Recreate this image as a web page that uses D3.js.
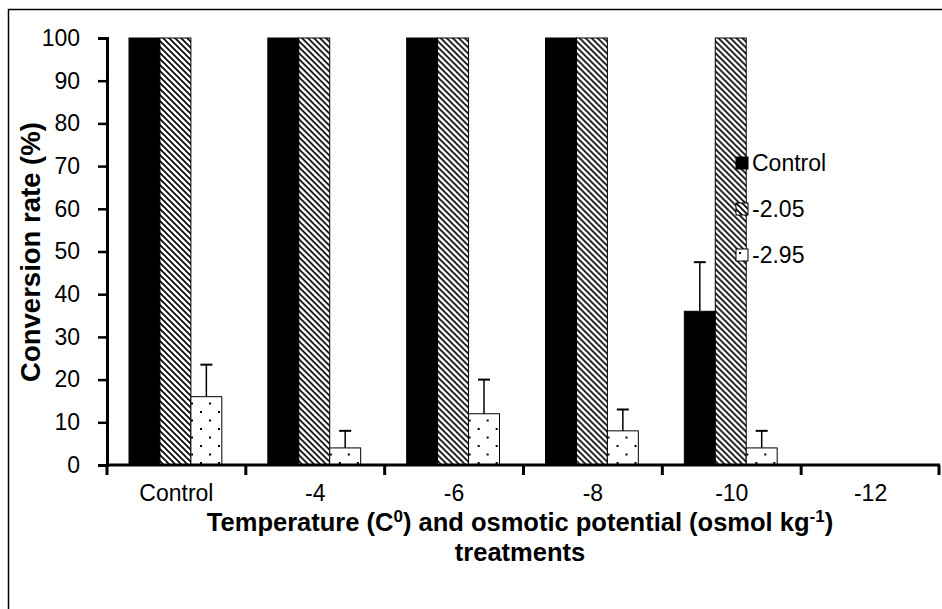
<!DOCTYPE html>
<html>
<head>
<meta charset="utf-8">
<script src="https://cdn.jsdelivr.net/npm/d3@7"></script>
<style>
  body { margin: 0; background: #fff; }
  svg { font-family: Arial, "Liberation Sans", sans-serif; }
</style>
</head>
<body>
<svg width="942" height="609"></svg>
<script>
// categories and series
const categories = ["Control", "-4", "-6", "-8", "-10", "-12"];
const seriesNames = ["Control", "-2.05", "-2.95"];
const controlVals = [100, 100, 100, 100, 36, 0];
const v205Vals    = [100, 100, 100, 100, 100, 0];
const v295Vals    = [16, 4, 12, 8, 4, 0];
const controlErr  = [0, 0, 0, 0, 11.5, 0];
const v205Err     = [0, 0, 0, 0, 0, 0];
const v295Err     = [7.5, 4, 8, 5, 4, 0];
const yTicks = [0, 10, 20, 30, 40, 50, 60, 70, 80, 90, 100];

let svg = d3.select("svg");
let margin = {left: 107, right: 2, top: 38, bottom: 144};
let width = 942, height = 609;

// outer frame
svg.append("rect")
    .attr("x", 8.5).attr("y", 9.5)
    .attr("width", 1000).attr("height", 700)
    .attr("fill", "none").attr("stroke", "#000").attr("stroke-width", 1.5);

let defs = svg.append("defs");
let hatch = defs.append("pattern")
    .attr("id", "hatch").attr("patternUnits", "userSpaceOnUse")
    .attr("width", 6).attr("height", 6);
hatch.append("rect").attr("width", 6).attr("height", 6).attr("fill", "#fff");
hatch.append("path")
    .attr("d", "M-1,-1 L7,7 M-4,2 L2,8 M4,-2 L8,2")
    .attr("stroke", "#000").attr("stroke-width", 1.6);

let dots = defs.append("pattern")
    .attr("id", "dots").attr("patternUnits", "userSpaceOnUse")
    .attr("width", 18).attr("height", 17);
dots.append("rect").attr("width", 18).attr("height", 17).attr("fill", "#fff");
dots.append("rect").attr("x", 3).attr("y", 3).attr("width", 2).attr("height", 2).attr("fill", "#000");
dots.append("rect").attr("x", 12).attr("y", 11.5).attr("width", 2).attr("height", 2).attr("fill", "#000");

let fills = ["#000", "url(#hatch)", "url(#dots)"];

let x0 = d3.scaleBand()
    .domain(categories)
    .range([margin.left, width - margin.right])
    .paddingInner(0).paddingOuter(0);
let x1 = d3.scaleBand()
    .domain(seriesNames)
    .range([22, x0.bandwidth() - 24]);
let y = d3.scaleLinear().domain([0, 100]).range([465, margin.top]);

let data = categories.map((c, i) => ({
    cat: c,
    vals: [
        {s: seriesNames[0], v: controlVals[i], e: controlErr[i]},
        {s: seriesNames[1], v: v205Vals[i], e: v205Err[i]},
        {s: seriesNames[2], v: v295Vals[i], e: v295Err[i]}
    ]
}));

let groups = svg.selectAll("g.cat")
    .data(data)
    .enter().append("g")
    .attr("class", "cat")
    .attr("transform", d => `translate(${x0(d.cat)},0)`);

groups.selectAll("rect")
    .data(d => d.vals.filter(v => v.v > 0))
    .enter().append("rect")
    .attr("x", d => x1(d.s))
    .attr("y", d => y(d.v))
    .attr("width", x1.bandwidth())
    .attr("height", d => y(0) - y(d.v))
    .attr("fill", (d, i) => fills[seriesNames.indexOf(d.s)])
    .attr("stroke", "#000")
    .attr("stroke-width", 1);

// error bars (upper only)
let errs = groups.selectAll("g.err")
    .data(d => d.vals.filter(v => v.e > 0))
    .enter().append("g").attr("class", "err");
errs.append("line")
    .attr("x1", d => x1(d.s) + x1.bandwidth() / 2)
    .attr("x2", d => x1(d.s) + x1.bandwidth() / 2)
    .attr("y1", d => y(d.v))
    .attr("y2", d => y(d.v + d.e))
    .attr("stroke", "#000").attr("stroke-width", 1.5);
errs.append("line")
    .attr("x1", d => x1(d.s) + x1.bandwidth() / 2 - 6)
    .attr("x2", d => x1(d.s) + x1.bandwidth() / 2 + 6)
    .attr("y1", d => y(d.v + d.e))
    .attr("y2", d => y(d.v + d.e))
    .attr("stroke", "#000").attr("stroke-width", 2);

// y axis
let yAxis = svg.append("g")
    .attr("transform", `translate(${margin.left},0)`)
    .call(d3.axisLeft(y).tickValues(yTicks).tickSize(9).tickPadding(18));
yAxis.select(".domain").attr("stroke-width", 3);
yAxis.selectAll(".tick line").attr("stroke-width", 2.5);
yAxis.selectAll("text").attr("font-size", 23).attr("fill", "#000")
    .attr("font-family", "Arial, 'Liberation Sans', sans-serif");

// x axis with ticks at category boundaries
let xAxisG = svg.append("g").attr("transform", `translate(0,${y(0)})`);
xAxisG.append("line")
    .attr("x1", margin.left).attr("x2", width - margin.right)
    .attr("stroke", "#000").attr("stroke-width", 3);
let bounds = categories.map(c => x0(c)).concat([x0.range()[1] - 1]);
xAxisG.selectAll("line.tk")
    .data(bounds)
    .enter().append("line").attr("class", "tk")
    .attr("x1", d => d).attr("x2", d => d)
    .attr("y1", 0).attr("y2", 10)
    .attr("stroke", "#000").attr("stroke-width", 3);
xAxisG.selectAll("text")
    .data(categories)
    .enter().append("text")
    .attr("x", d => x0(d) + x0.bandwidth() / 2)
    .attr("y", 36)
    .attr("text-anchor", "middle")
    .attr("font-size", 23)
    .text(d => d);

// axis titles
svg.append("text")
    .attr("transform", "translate(40,252) rotate(-90)")
    .attr("text-anchor", "middle")
    .attr("font-size", 27.5).attr("font-weight", "bold")
    .text("Conversion rate (%)");

let xt = svg.append("text")
    .attr("x", 520).attr("y", 531)
    .attr("text-anchor", "middle")
    .attr("font-size", 25.5).attr("font-weight", "bold");
xt.append("tspan").text("Temperature (C");
xt.append("tspan").attr("font-size", 17).attr("dy", -9).text("0");
xt.append("tspan").attr("dy", 9).text(") and osmotic potential (osmol kg");
xt.append("tspan").attr("font-size", 17).attr("dy", -9).text("-1");
xt.append("tspan").attr("dy", 9).text(")");
svg.append("text")
    .attr("x", 520).attr("y", 561)
    .attr("text-anchor", "middle")
    .attr("font-size", 25.5).attr("font-weight", "bold")
    .text("treatments");

// legend
let legend = svg.selectAll("g.leg")
    .data(seriesNames)
    .enter().append("g").attr("class", "leg")
    .attr("transform", (d, i) => `translate(736,${157 + i * 46})`);
legend.append("rect")
    .attr("width", 12).attr("height", 12)
    .attr("fill", (d, i) => fills[i])
    .attr("stroke", "#000").attr("stroke-width", 1);
legend.append("text")
    .attr("x", 16).attr("y", 14)
    .attr("font-size", 23)
    .text(d => d);
</script>
</body>
</html>
